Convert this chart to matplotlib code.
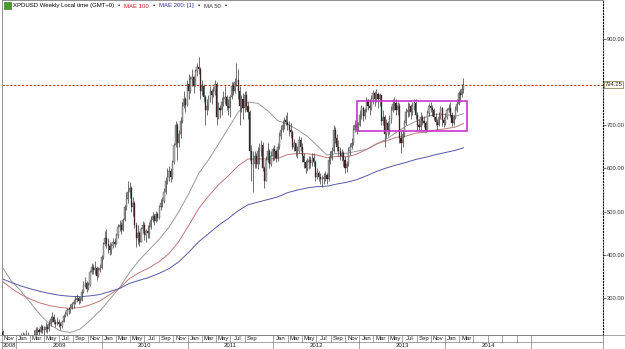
import numpy as np
import pandas as pd
import matplotlib
matplotlib.use('Agg')
import matplotlib.pyplot as plt
from matplotlib.patches import Rectangle
from matplotlib.lines import Line2D

plt.rcParams['font.family'] = ['Liberation Sans Narrow', 'Liberation Sans', 'DejaVu Sans']

# weekly candles, first week starts Sunday 2008-11-02, open = previous close
first_week = '2008-11-02'
first_open = 222

close_2008 = [205, 195, 180, 190, 176, 185, 188, 183, 188]
high_2008 = [226, 210, 198, 195, 192, 190, 198, 190, 192]
low_2008 = [198, 185, 172, 175, 164, 170, 180, 178, 180]

close_2009 = [200, 190, 210, 212, 208, 215, 212, 200, 196, 203, 212, 226, 225, 222, 232, 226, 225, 232,
              228, 240, 252, 255, 245, 240, 245, 240, 234, 245, 258, 262, 272, 272, 278, 285, 290, 295,
              300, 292, 296, 315, 330, 335, 322, 330, 360, 372, 365, 370, 352, 365, 370, 395]
high_2009 = [210, 205, 220, 222, 218, 225, 222, 215, 205, 210, 225, 232, 232, 230, 240, 238, 235, 245,
             240, 248, 258, 268, 262, 252, 255, 252, 244, 250, 262, 270, 278, 280, 285, 290, 298, 305,
             310, 305, 302, 320, 340, 348, 340, 336, 365, 380, 378, 385, 375, 372, 378, 400]
low_2009 = [186, 184, 188, 200, 200, 205, 203, 195, 190, 192, 200, 210, 215, 212, 218, 218, 215, 222,
            220, 224, 236, 245, 240, 232, 238, 232, 225, 230, 244, 255, 258, 264, 265, 274, 278, 286,
            290, 285, 288, 293, 312, 325, 315, 318, 328, 355, 355, 355, 342, 348, 360, 368]

close_2010 = [425, 440, 425, 420, 412, 420, 430, 425, 445, 465, 470, 458, 480, 510, 530, 545, 555, 510,
              520, 470, 440, 450, 430, 460, 470, 445, 455, 450, 465, 480, 490, 478, 495, 485, 510, 520,
              525, 545, 572, 580, 595, 580, 615, 655, 700, 660, 680, 710, 745, 760, 748, 795]
high_2010 = [430, 455, 460, 440, 430, 428, 438, 440, 450, 472, 480, 475, 485, 515, 545, 570, 568, 560,
             535, 525, 475, 468, 455, 465, 478, 475, 460, 470, 475, 490, 500, 495, 502, 500, 515, 530,
             535, 555, 580, 600, 605, 602, 620, 660, 710, 705, 690, 720, 755, 780, 765, 805]
low_2010 = [390, 420, 415, 405, 400, 402, 415, 418, 424, 440, 455, 448, 455, 478, 505, 520, 532, 500,
            490, 462, 418, 425, 420, 430, 450, 435, 430, 440, 438, 460, 475, 470, 475, 478, 482, 505,
            510, 520, 540, 565, 570, 568, 575, 610, 650, 620, 650, 670, 705, 740, 730, 745]

close_2011 = [780, 808, 812, 790, 825, 835, 830, 780, 790, 765, 735, 745, 760, 780, 770, 780, 795, 720,
              740, 735, 755, 760, 765, 745, 740, 765, 790, 780, 800, 805, 780, 745, 760, 740, 770, 745,
              730, 640, 610, 610, 630, 610, 640, 645, 655, 600, 570, 620, 640, 610, 630, 645]
high_2011 = [820, 815, 830, 815, 830, 845, 858, 835, 805, 795, 770, 760, 770, 790, 785, 790, 805, 800,
             755, 748, 765, 780, 790, 770, 760, 770, 800, 800, 810, 845, 830, 790, 770, 775, 780, 780,
             755, 735, 655, 640, 640, 635, 650, 660, 665, 662, 605, 630, 660, 645, 640, 650]
low_2011 = [760, 775, 790, 775, 790, 815, 820, 760, 770, 755, 700, 725, 735, 755, 750, 765, 770, 700,
            715, 718, 725, 745, 750, 735, 725, 720, 760, 770, 775, 790, 760, 700, 730, 715, 730, 735,
            715, 620, 570, 545, 600, 600, 598, 610, 630, 595, 555, 570, 615, 600, 605, 618]

close_2012 = [640, 625, 650, 675, 690, 700, 712, 708, 700, 690, 685, 650, 660, 640, 640, 665, 650, 630,
              615, 600, 615, 620, 612, 625, 615, 580, 590, 580, 575, 575, 580, 585, 575, 620, 625, 640,
              690, 670, 650, 640, 630, 635, 620, 602, 610, 640, 650, 660, 690, 700, 695, 700, 725]
high_2012 = [655, 645, 660, 685, 700, 712, 720, 725, 730, 710, 705, 690, 668, 660, 652, 675, 672, 658,
             635, 620, 625, 630, 630, 635, 635, 620, 600, 595, 590, 585, 590, 595, 590, 628, 640, 650,
             700, 695, 680, 665, 650, 645, 640, 628, 618, 650, 660, 670, 700, 712, 710, 708, 735]
low_2012 = [620, 615, 618, 645, 668, 685, 692, 700, 690, 675, 670, 645, 640, 628, 625, 635, 640, 615,
            600, 590, 595, 598, 600, 605, 605, 570, 575, 570, 565, 558, 565, 572, 565, 572, 610, 620,
            638, 660, 640, 630, 620, 618, 605, 590, 592, 605, 632, 645, 655, 685, 680, 688, 698]

close_2013 = [740, 722, 735, 758, 745, 740, 760, 775, 760, 772, 760, 770, 710, 720, 680, 705, 690, 715,
              735, 750, 752, 735, 745, 670, 660, 680, 705, 730, 735, 745, 730, 745, 752, 725, 700, 695,
              720, 710, 705, 690, 728, 745, 740, 735, 720, 708, 700, 720, 740, 712, 705, 720]
high_2013 = [748, 745, 740, 765, 760, 760, 770, 782, 780, 785, 778, 775, 770, 735, 725, 715, 710, 725,
             745, 760, 765, 760, 755, 752, 690, 690, 712, 740, 755, 752, 750, 755, 762, 760, 730, 715,
             730, 725, 722, 710, 735, 752, 755, 748, 740, 728, 715, 730, 745, 742, 720, 728]
low_2013 = [715, 710, 715, 730, 735, 725, 735, 750, 745, 755, 740, 745, 700, 700, 650, 670, 675, 680,
            705, 730, 735, 725, 725, 660, 635, 650, 672, 700, 720, 722, 715, 725, 735, 715, 690, 688,
            690, 700, 695, 685, 690, 722, 730, 722, 712, 700, 690, 698, 715, 698, 695, 700]

close_2014 = [735, 740, 725, 705, 720, 735, 750, 775, 770, 785, 794.25]
high_2014 = [740, 750, 755, 730, 725, 745, 760, 780, 785, 795, 810]
low_2014 = [715, 730, 720, 698, 700, 715, 730, 748, 755, 765, 775]

# moving averages (week index -> price)
ma_weeks = [0] + list(range(5, 276, 6)) + [280]
ma50 = [370, 340, 316, 288, 260, 237, 224, 220, 228, 248, 270, 297, 324, 359, 388, 412, 436, 464, 500,
        542, 588, 620, 656, 693, 730, 754, 751, 734, 711, 703, 690, 675, 653, 631, 635, 635, 640, 644,
        656, 668, 683, 698, 709, 719, 726, 725, 721, 727]
mae100 = [338, 323, 308, 297, 288, 282, 278, 276, 278, 284, 293, 308, 323, 345, 359, 370, 384, 403, 431,
          468, 507, 536, 562, 583, 606, 622, 622, 622, 623, 632, 635, 634, 631, 625, 628, 627, 633, 644,
          657, 664, 672, 675, 682, 684, 689, 692, 696, 704]
mae200 = [344, 336, 328, 321, 315, 310, 306, 304, 303, 305, 308, 315, 322, 334, 341, 348, 357, 368, 384,
          406, 430, 449, 468, 484, 502, 516, 522, 528, 534, 544, 550, 555, 558, 559, 564, 568, 574, 583,
          593, 601, 608, 614, 621, 626, 632, 637, 642, 648]

last_price = 794.25
y_ticks = [300, 400, 500, 600, 700, 900]

closes = np.array(close_2008 + close_2009 + close_2010 + close_2011 + close_2012 + close_2013 + close_2014, float)
highs = np.array(high_2008 + high_2009 + high_2010 + high_2011 + high_2012 + high_2013 + high_2014, float)
lows = np.array(low_2008 + low_2009 + low_2010 + low_2011 + low_2012 + low_2013 + low_2014, float)
opens = np.concatenate([[first_open], closes[:-1]])
weeks = np.arange(len(closes))

W, H = 625, 349
fig = plt.figure(figsize=(W / 100, H / 100), dpi=100)
ax = fig.add_axes([2 / W, 14 / H, 601 / W, 335 / H])
ax.set_xlim(-0.5, 364.8)
ax.set_ylim(214.3, 990.3)

# candles
up = closes >= opens
body = np.maximum(np.abs(closes - opens), 1.5)
ax.vlines(weeks, lows, highs, color='#383838', lw=0.5, zorder=3)
ax.bar(weeks[up], body[up], bottom=opens[up], width=0.7, color='#b4b4b4',
       edgecolor='#404040', linewidth=0.25, zorder=4)
ax.bar(weeks[~up], body[~up], bottom=closes[~up], width=0.7, color='#4a1c1c',
       edgecolor='#303030', linewidth=0.25, zorder=4)

# averages
ax.plot(ma_weeks, ma50, color='#9a9a9a', lw=0.7, zorder=2)
ax.plot(ma_weeks, mae100, color='#c07878', lw=0.7, zorder=2)
ax.plot(ma_weeks, mae200, color='#5858a8', lw=0.7, zorder=2)

# current price + range box
ax.axhline(last_price, color='#c0401a', lw=0.8, ls=(0, (2, 1.5)), zorder=1)
ax.add_patch(Rectangle((215, 688), 67, 69, fill=False, edgecolor='#cc33cc', lw=1.2, zorder=5))

# spines / ticks
ax.spines['right'].set_linestyle(':')
ax.spines['right'].set_color('black')
ax.spines['right'].set_linewidth(0.8)
for s in ['left', 'top', 'bottom']:
    ax.spines[s].set_color('#909090')
    ax.spines[s].set_linewidth(0.7)
ax.set_xticks([])
ax.yaxis.tick_right()
ax.set_yticks(y_ticks)
ax.set_yticklabels([f'{v:.2f}' for v in y_ticks])
ax.tick_params(axis='y', length=2, width=0.5, pad=0.8, labelsize=4.2, colors='#303030')
ax.text(1.003, last_price, f'{last_price:.2f}', transform=ax.get_yaxis_transform(), fontsize=4.2,
        va='center', ha='left', color='#202020',
        bbox=dict(boxstyle='square,pad=0.12', fc='#fffff4', ec='#707040', lw=0.5))

# header, laid out left to right
fig.patches.append(Rectangle((4 / W, 1 - 9 / H), 7 / W, 7 / H, transform=fig.transFigure,
                             fc='#4a9a30', ec='#2a5a1a', lw=0.4))
fig.canvas.draw()
rend = fig.canvas.get_renderer()
hy = 1 - 6 / H
px = 13
for txt, col in [('XPDUSD Weekly Local time (GMT+0)', '#000000'), ('•', '#000000'),
                 ('MAE 100', '#c02020'), ('•', '#000000'), ('MAE 200: [1]', '#303090'),
                 ('•', '#000000'), ('MA 50', '#303030'), ('•', '#000000')]:
    t = fig.text(px / W, hy, txt, fontsize=4.3, color=col, va='center', ha='left')
    px += t.get_window_extent(rend).width + 4

# date axis: two rows of cells
start = pd.Timestamp(first_week)
def wk(d):
    return (d - start).days / 7 - 0.5

x0, x1 = ax.get_xlim()
tr = ax.get_xaxis_transform()
row1, row_sep, row_bot = -3.5 / 335, -7 / 335, -14 / 335

months = pd.date_range('2008-11-01', '2015-03-01', freq='2MS')
mx = [max(wk(d), x0) for d in months]
for i, d in enumerate(months[:-1]):
    if mx[i] >= x1:
        break
    if d.year == 2011 and d.month == 11:
        continue
    ax.add_line(Line2D([mx[i], mx[i]], [0, row_sep], transform=tr, color='#808080', lw=0.5, clip_on=False))
    if d <= pd.Timestamp('2014-03-01'):
        xc = (mx[i] + min(mx[i + 1], x1)) / 2
        ax.text(xc, row1, d.strftime('%b'), transform=tr, fontsize=4.3, ha='center', va='center', color='#202020')

years = pd.date_range('2008-01-01', '2016-01-01', freq='YS')
for i, d in enumerate(years[:-1]):
    a = max(wk(d), x0)
    b = min(wk(years[i + 1]), x1)
    if a >= x1:
        break
    ax.add_line(Line2D([a, a], [row_sep, row_bot], transform=tr, color='#808080', lw=0.5, clip_on=False))
    if d.year <= 2014:
        ax.text((a + b) / 2, (row_sep + row_bot) / 2, str(d.year), transform=tr, fontsize=4.3,
                ha='center', va='center', color='#202020')

fig.add_artist(Line2D([0, 603 / W], [1 - 342 / H, 1 - 342 / H], transform=fig.transFigure, color='#808080', lw=0.5))
fig.add_artist(Line2D([0, 1], [0.5 / H, 0.5 / H], transform=fig.transFigure, color='#808080', lw=0.5))
fig.add_artist(Line2D([0, 1], [14 / H, 14 / H], transform=fig.transFigure, color='#808080', lw=0.5))
fig.add_artist(Line2D([603 / W, 603 / W], [0, 14 / H], transform=fig.transFigure, color='#808080', lw=0.5))

fig.savefig('out.png', dpi=100)
